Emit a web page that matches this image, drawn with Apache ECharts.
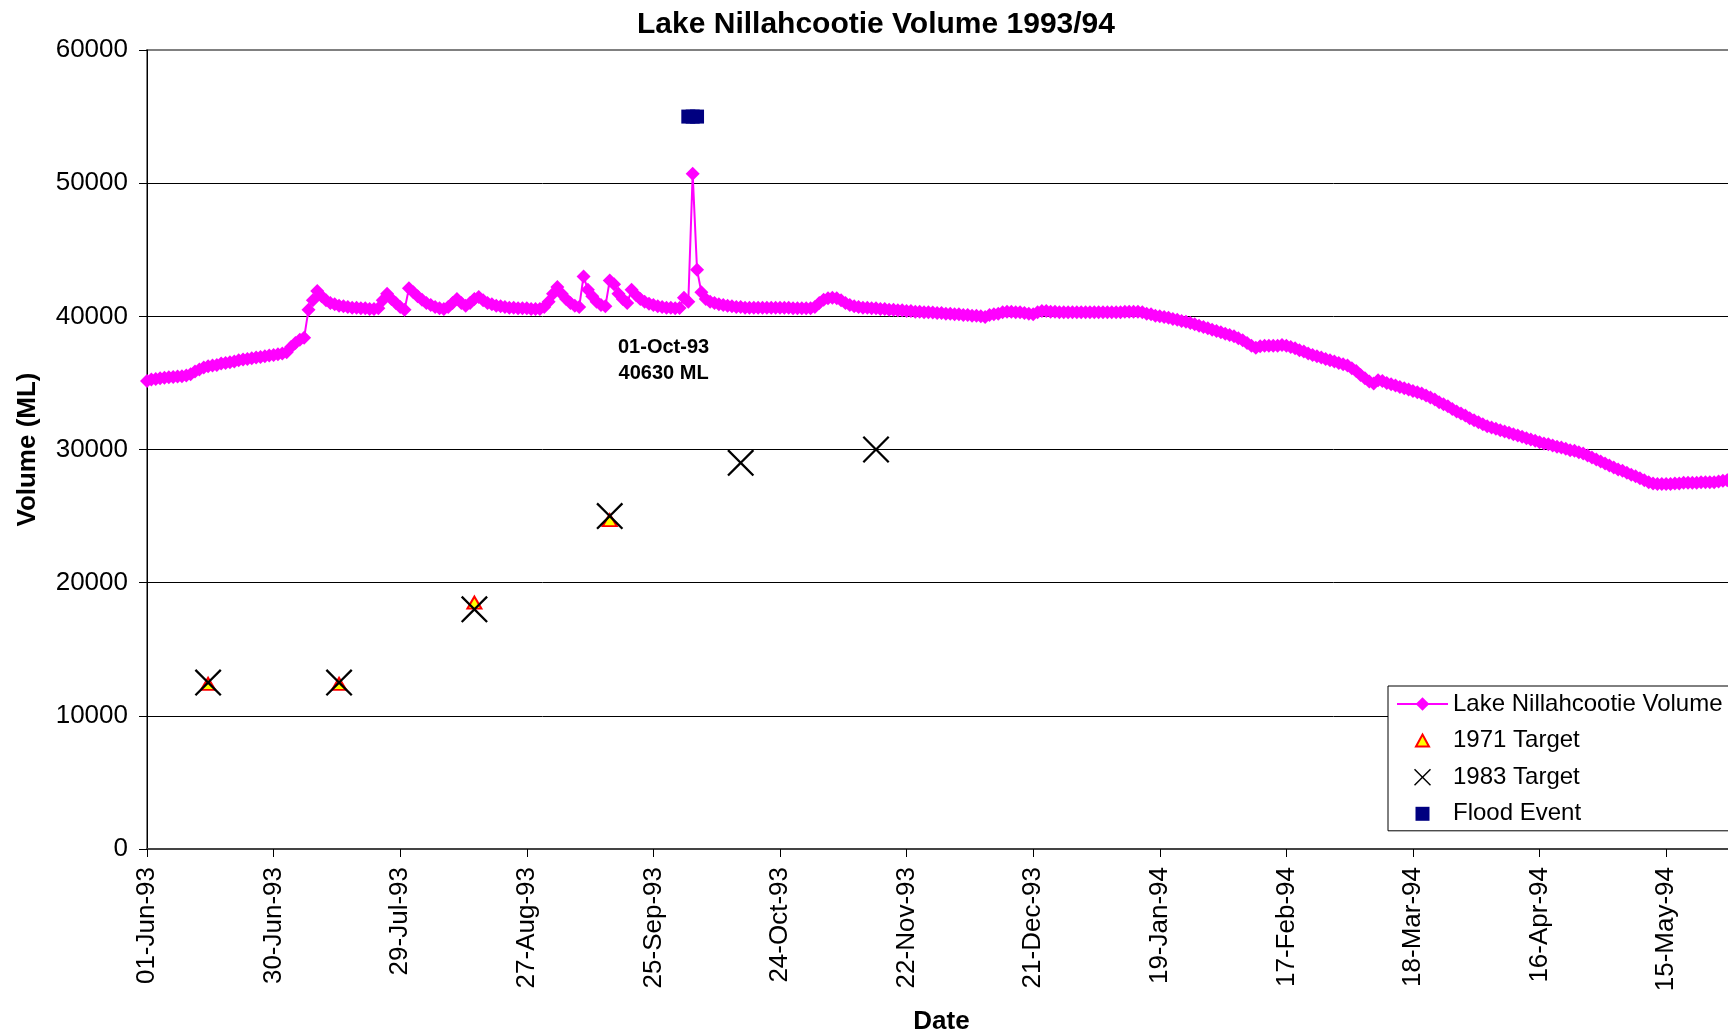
<!DOCTYPE html>
<html>
<head>
<meta charset="utf-8">
<title>Lake Nillahcootie Volume 1993/94</title>
<script src="https://cdn.jsdelivr.net/npm/echarts@6/dist/echarts.min.js"></script>
<style>
  html, body { margin: 0; padding: 0; background: #fff; }
  #chart { width: 1728px; height: 1034px; }
</style>
</head>
<body>
<div id="chart"></div>
<script>
// Daily storage volume (ML), 1 June 1993 to 31 May 1994
const volume = [
  // Jun 93
  35150, 35250, 35300, 35350, 35380, 35420, 35450, 35480, 35500, 35550,
  35650, 35850, 36000, 36150, 36250, 36300, 36350, 36450, 36500, 36550,
  36600, 36700, 36750, 36800, 36850, 36900, 36950, 37000, 37050, 37100,
  // Jul 93
  37150, 37200, 37300, 37700, 38000, 38250, 38400, 40500, 41200, 41900,
  41500, 41200, 41000, 40900, 40800, 40750, 40700, 40650, 40650, 40600,
  40600, 40550, 40550, 40600, 41200, 41700, 41300, 41000, 40700, 40500,
  42100,
  // Aug 93
  41800, 41500, 41250, 41000, 40850, 40700, 40600, 40550, 40700, 41000,
  41300, 41000, 40800, 41000, 41300, 41450, 41200, 41000, 40900, 40800,
  40750, 40700, 40650, 40650, 40600, 40600, 40600, 40550, 40550, 40550,
  40700,
  // Sep 93
  41100, 41700, 42200, 41700, 41300, 41000, 40800, 40700, 43000, 42000,
  41500, 41100, 40850, 40750, 42700, 42400, 41700, 41300, 41000, 42000,
  41600, 41300, 41100, 40950, 40850, 40750, 40700, 40650, 40650, 40600,
  // Oct 93
  40630, 41400, 41100, 50700, 43500, 41800, 41300, 41100, 41000, 40900,
  40850, 40800, 40750, 40700, 40700, 40650, 40650, 40650, 40650, 40650,
  40650, 40650, 40650, 40650, 40650, 40650, 40600, 40600, 40600, 40600,
  40600,
  // Nov 93
  40700, 41000, 41250, 41350, 41400, 41350, 41200, 41000, 40850, 40750,
  40700, 40650, 40650, 40600, 40600, 40550, 40550, 40500, 40500, 40450,
  40450, 40400, 40400, 40350, 40350, 40300, 40300, 40280, 40250, 40250,
  // Dec 93
  40200, 40200, 40150, 40150, 40100, 40100, 40050, 40050, 40000, 39950,
  40100, 40150, 40200, 40300, 40350, 40350, 40300, 40300, 40250, 40200,
  40150, 40300, 40400, 40400, 40350, 40350, 40300, 40300, 40300, 40300,
  40300,
  // Jan 94
  40300, 40300, 40300, 40300, 40300, 40300, 40300, 40300, 40300, 40300,
  40350, 40350, 40350, 40350, 40300, 40200, 40150, 40050, 40000, 39950,
  39900, 39800, 39750, 39650, 39600, 39500, 39400, 39300, 39200, 39100,
  39000,
  // Feb 94
  38900, 38800, 38700, 38600, 38500, 38350, 38200, 38000, 37800, 37650,
  37750, 37800, 37800, 37800, 37800, 37850, 37800, 37700, 37600, 37450,
  37350, 37200, 37100, 37000, 36900, 36800, 36700, 36600,
  // Mar 94
  36500, 36400, 36300, 36100, 35900, 35600, 35350, 35100, 34950, 35200,
  35150, 35000, 34900, 34800, 34700, 34600, 34500, 34400, 34300, 34200,
  34050, 33900, 33750, 33550, 33400, 33250, 33050, 32850, 32700, 32550,
  32350,
  // Apr 94
  32200, 32050, 31900, 31750, 31650, 31550, 31450, 31350, 31250, 31150,
  31050, 30950, 30850, 30750, 30650, 30550, 30450, 30400, 30300, 30200,
  30150, 30050, 29950, 29900, 29800, 29700, 29550, 29400, 29250, 29100,
  // May 94
  28950, 28800, 28650, 28500, 28400, 28250, 28100, 28000, 27850, 27700,
  27550, 27450, 27400, 27400, 27400, 27400, 27450, 27450, 27500, 27500,
  27500, 27500, 27550, 27550, 27550, 27550, 27600, 27650, 27700, 27700,
  27750
];

// Storage targets (ML) on the 15th of each month
const targetDates = ['15-Jun-93', '15-Jul-93', '15-Aug-93', '15-Sep-93', '15-Oct-93', '15-Nov-93'];
const target1971 = [12400, 12400, 18500, 24700];
const target1983 = [12500, 12500, 18000, 25000, 29000, 30000];

// Flood event markers
const floodDates = ['03-Oct-93', '04-Oct-93', '05-Oct-93'];
const floodLevel = [55000, 55000, 55000];

// Annotated day
const labelDate = '01-Oct-93';

// Y axis ticks
const yMin = 0, yMax = 60000, yStep = 10000;

// Date categories, one per day
const MONTHS = ['Jan','Feb','Mar','Apr','May','Jun','Jul','Aug','Sep','Oct','Nov','Dec'];
const startDate = Date.UTC(1993, 5, 1);
const dates = volume.map(function (v, i) {
  const d = new Date(startDate + i * 86400000);
  const dd = String(d.getUTCDate()).padStart(2, '0');
  const yy = String(d.getUTCFullYear()).slice(2);
  return dd + '-' + MONTHS[d.getUTCMonth()] + '-' + yy;
});

const FONT = 'Liberation Sans, Arial, Helvetica, sans-serif';
const labelIndex = dates.indexOf(labelDate);

const volumeData = volume.map(function (v, i) {
  if (i !== labelIndex) return v;
  return {
    value: v,
    label: {
      show: true,
      position: 'bottom',
      distance: 20,
      offset: [-16, 0],
      formatter: '{b}\n{c} ML',
      fontFamily: FONT,
      fontSize: 20,
      fontWeight: 'bold',
      lineHeight: 26,
      color: '#000',
      align: 'center'
    }
  };
});

// Cross marker drawn as a filled outline
const CROSS = 'path://M0,6L6,0L50,44L94,0L100,6L56,50L100,94L94,100L50,56L6,100L0,94L44,50Z';

const chart = echarts.init(document.getElementById('chart'), null, { renderer: 'canvas' });

chart.setOption({
  animation: false,
  backgroundColor: '#ffffff',
  textStyle: { fontFamily: FONT },
  graphic: [{
    type: 'text',
    x: 876,
    y: 24.5,
    style: {
      text: 'Lake Nillahcootie Volume 1993/94',
      font: 'bold 30px ' + FONT,
      fill: '#000',
      align: 'center',
      verticalAlign: 'middle'
    }
  }],
  grid: {
    left: 147,
    top: 50,
    right: -8,
    bottom: 185,
    containLabel: false,
    outerBoundsMode: 'none',
    show: true,
    borderColor: '#808080',
    borderWidth: 2,
    backgroundColor: 'transparent'
  },
  legend: {
    orient: 'vertical',
    left: 1388,
    top: 686,
    padding: [6, 14, 5, 8],
    itemWidth: 51,
    itemHeight: 17,
    itemGap: 12.6,
    backgroundColor: '#fff',
    borderColor: '#000',
    borderWidth: 1,
    textStyle: { fontFamily: FONT, fontSize: 24, color: '#000' },
    data: [
      { name: 'Lake Nillahcootie Volume' },
      { name: '1971 Target', icon: 'path://M0,0M17,17M8.5,2.5L15,14.5L2,14.5Z' },
      { name: '1983 Target' },
      { name: 'Flood Event', icon: 'path://M0,0M17,17M1.5,1.5L15.5,1.5L15.5,15.5L1.5,15.5Z' }
    ]
  },
  xAxis: {
    type: 'category',
    data: dates,
    boundaryGap: false,
    name: 'Date',
    nameLocation: 'middle',
    nameGap: 160,
    nameTextStyle: { fontFamily: FONT, fontSize: 26, fontWeight: 'bold', color: '#000' },
    axisLine: { show: true, lineStyle: { color: '#444', width: 2 } },
    axisTick: { show: true, interval: 28, length: 8, lineStyle: { color: '#000', width: 1 } },
    axisLabel: {
      interval: 28,
      rotate: 90,
      margin: 18,
      fontFamily: FONT,
      fontSize: 26,
      color: '#000'
    },
    splitLine: { show: false }
  },
  yAxis: {
    type: 'value',
    min: yMin,
    max: yMax,
    interval: yStep,
    name: 'Volume (ML)',
    nameLocation: 'middle',
    nameRotate: 90,
    nameGap: 106,
    nameTextStyle: { fontFamily: FONT, fontSize: 26, fontWeight: 'bold', color: '#000' },
    axisLine: { show: true, lineStyle: { color: '#000', width: 1 } },
    axisTick: { show: true, length: 8, lineStyle: { color: '#000', width: 1 } },
    axisLabel: {
      margin: 19,
      fontFamily: FONT,
      fontSize: 26,
      color: '#000',
      formatter: function (v) { return String(v); }
    },
    splitLine: { show: true, showMaxLine: false, showMinLine: false, lineStyle: { color: '#000', width: 1 } }
  },
  series: [
    {
      name: 'Lake Nillahcootie Volume',
      type: 'line',
      data: volumeData,
      symbol: 'diamond',
      symbolSize: 14,
      showAllSymbol: true,
      lineStyle: { color: '#FF00FF', width: 2 },
      itemStyle: { color: '#FF00FF' },
      z: 2
    },
    {
      name: '1971 Target',
      type: 'scatter',
      data: target1971.map(function (v, i) { return [targetDates[i], v]; }),
      symbol: 'triangle',
      symbolSize: [14, 12],
      itemStyle: { color: '#FFFF00', borderColor: '#FF0000', borderWidth: 2, opacity: 1 },
      z: 3
    },
    {
      name: '1983 Target',
      type: 'scatter',
      data: target1983.map(function (v, i) { return [targetDates[i], v]; }),
      symbol: CROSS,
      symbolSize: 27,
      itemStyle: { color: '#000', opacity: 1 },
      z: 4
    },
    {
      name: 'Flood Event',
      type: 'scatter',
      data: floodLevel.map(function (v, i) { return [floodDates[i], v]; }),
      symbol: 'rect',
      symbolSize: 14,
      itemStyle: { color: '#000080', opacity: 1 },
      z: 5
    }
  ]
});
</script>
</body>
</html>
